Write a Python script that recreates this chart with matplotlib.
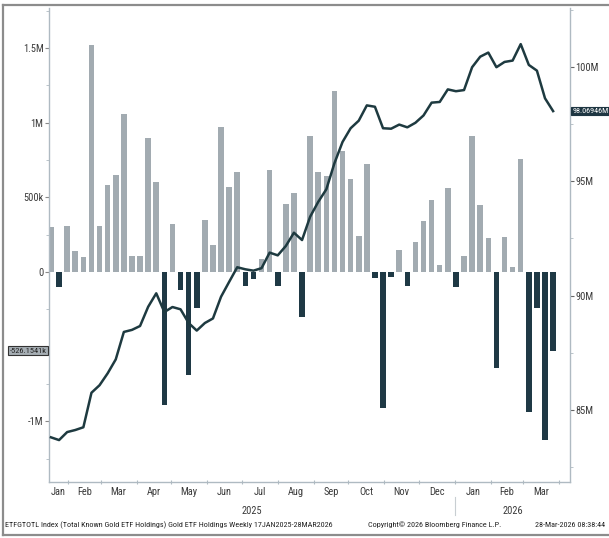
import matplotlib
matplotlib.use("Agg")
import matplotlib.pyplot as plt
from matplotlib import font_manager
from matplotlib.lines import Line2D
import matplotlib.ticker as mticker
import pandas as pd
import numpy as np

# ---------------- data ----------------
start_date = "2025-01-17"          # first weekly observation (Friday)
weekly_flow_k = [300, -100, 310, 140, 100, 1520, 310, 580, 650, 1060,
                 110, 110, 900, 600, -890, 320, -120, -690, -240, 350,
                 180, 970, 570, 670, -95, -50, 85, 680, -95, 455,
                 530, -300, 910, 670, 645, 1210, 810, 625, 240, 720,
                 -40, -910, -36, 150, -95, 200, 340, 480, 50, 560,
                 -100, 107, 910, 446, 228, -640, 237, 36, 754, -940,
                 -240, -1125, -526.1541]
holdings_m = [83.80, 83.68, 84.03, 84.12, 84.24, 85.75, 86.08, 86.60, 87.21, 88.41,
              88.50, 88.67, 89.51, 90.10, 89.28, 89.50, 89.40, 88.80, 88.47, 88.80,
              89.00, 89.95, 90.60, 91.24, 91.15, 91.09, 91.20, 91.88, 91.76, 92.17,
              92.75, 92.43, 93.45, 94.10, 94.65, 95.79, 96.72, 97.32, 97.65, 98.32,
              98.26, 97.32, 97.30, 97.48, 97.36, 97.56, 97.88, 98.44, 98.47, 99.02,
              98.94, 98.99, 99.99, 100.45, 100.63, 99.99, 100.22, 100.28, 101.00, 100.09,
              99.84, 98.63, 98.06946]
left_ticks = [-1.0, -0.5, 0.0, 0.5, 1.0, 1.5]
left_tick_labels = ["-1M", "", "0", "500k", "1M", "1.5M"]
right_ticks = [85, 90, 95, 100]
right_tick_labels = ["85M", "90M", "95M", "100M"]
month_names = ["Jan", "Feb", "Mar", "Apr", "May", "Jun", "Jul", "Aug", "Sep",
               "Oct", "Nov", "Dec"]
last_flow_label = "-526.1541k"
last_hold_label = "98.06946M"
footer_left = ("ETFGTOTL Index (Total Known Gold ETF Holdings) Gold ETF Holdings "
               "Weekly 17JAN2025-28MAR2026")
footer_mid = "Copyright\u00a9 2026 Bloomberg Finance L.P."
footer_right = "28-Mar-2026 08:38:44"

# ---------------- fonts ----------------
names = {f.name for f in font_manager.fontManager.ttflist}
FONT = "DejaVu Sans"
for cand in ["Liberation Sans Narrow", "Roboto Condensed", "Open Sans Condensed"]:
    if cand in names:
        FONT = cand
        break
plt.rcParams["font.family"] = [FONT, "DejaVu Sans"]

GRAY = "#A2ABB1"
DARK = "#1F3945"
LINE = "#1E3A40"
SPINE = "#AFBAC2"
TXT = "#3A3A3A"

dates = pd.date_range(start_date, periods=len(weekly_flow_k), freq="7D")
flows = np.array(weekly_flow_k) / 1000.0
colors = [GRAY if v >= 0 else DARK for v in flows]

W, H = 609, 538
fig = plt.figure(figsize=(W / 100, H / 100), dpi=100)
ax = fig.add_axes([49 / W, (H - 482) / H, 521 / W, 474 / H])

xmin = dates[0] - pd.Timedelta(days=1.7)
xmax = dates[0] + pd.Timedelta(days=448.6)

ax.bar(dates, flows, width=4.8, color=colors, zorder=2)
ax.set_xlim(xmin, xmax)
ax.set_ylim(-1.4066, 1.768)

ax2 = ax.twinx()
ax2.plot(dates, holdings_m, color=LINE, lw=1.8, zorder=3)
ax2.set_ylim(81.846, 102.58)
ax2.set_xlim(xmin, xmax)

for a in (ax, ax2):
    a.spines["top"].set_visible(False)
    for s in ["left", "right", "bottom"]:
        a.spines[s].set_color(SPINE)
        a.spines[s].set_linewidth(1.0)
ax.spines["right"].set_visible(False)
ax2.spines["left"].set_visible(False)
ax2.spines["bottom"].set_visible(False)

# left axis ticks
ax.set_yticks(left_ticks)
ax.set_yticklabels(left_tick_labels)
ax.yaxis.set_minor_locator(mticker.MultipleLocator(0.25))
ax.tick_params(axis="y", which="major", length=3, color="#888888", labelsize=7.5,
               labelcolor=TXT, pad=1)
ax.tick_params(axis="y", which="minor", length=2, color=SPINE)

# right axis ticks
ax2.set_yticks(right_ticks)
ax2.set_yticklabels(right_tick_labels)
ax2.yaxis.set_minor_locator(mticker.MultipleLocator(2.5))
ax2.tick_params(axis="y", which="major", length=3, color="#666666", labelsize=7.5,
                labelcolor=TXT, pad=1)
ax2.tick_params(axis="y", which="minor", length=2, color=SPINE)

# x axis: ticks at month starts, labels mid-month
month_starts = pd.date_range("2025-02-01", "2026-04-01", freq="MS")
ax.set_xticks(month_starts)
ax.set_xticklabels([])
ax.tick_params(axis="x", which="major", length=3, direction="inout", color=SPINE)
ax.xaxis.set_minor_locator(mticker.NullLocator())

bounds = [xmin] + list(month_starts) + [xmax]
trans = ax.get_xaxis_transform()
for i in range(len(bounds) - 2):   # April 2026 not labelled
    a0, a1 = bounds[i], bounds[i + 1]
    mid = a0 + (a1 - a0) / 2
    m = (a0 + pd.Timedelta(days=2)).month if i > 0 else 1
    ax.text(mid, -0.021, month_names[m - 1], transform=trans, ha="center",
            va="center", fontsize=7.5, color=TXT, clip_on=False)

ny = pd.Timestamp("2026-01-01")
ax.text(xmin + (ny - xmin) / 2, -0.061, "2025", transform=trans, ha="center",
        va="center", fontsize=7.5, color=TXT)
ax.text(ny + (xmax - ny) / 2, -0.061, "2026", transform=trans, ha="center",
        va="center", fontsize=7.5, color=TXT)
ax.add_line(Line2D([ny, ny], [-0.032, -0.07], transform=trans, color="#C8CED2",
                   lw=0.8, clip_on=False))

# last-value tags
ax.text(-0.005, weekly_flow_k[-1] / 1000.0, last_flow_label,
        transform=ax.get_yaxis_transform(), ha="right", va="center",
        fontsize=6.0, color="#222222",
        bbox=dict(boxstyle="square,pad=0.18", fc="#A6AEB4", ec="#333333", lw=0.8))
ax2.text(1.005, holdings_m[-1], last_hold_label,
         transform=ax2.get_yaxis_transform(), ha="left", va="center",
         fontsize=5.9, color="white",
         bbox=dict(boxstyle="square,pad=0.15", fc="#1E3642", ec="#1E3642", lw=0.8))

# outer frame
fc = "#8C8C8C"
fig.add_artist(Line2D([3 / W, 1.0], [1 - 5 / H, 1 - 5 / H], transform=fig.transFigure,
                      color=fc, lw=1.6))
fig.add_artist(Line2D([3 / W, 3 / W], [1 - 5 / H, 1 - 535 / H], transform=fig.transFigure,
                      color=fc, lw=1.6))
fig.add_artist(Line2D([3 / W, 1.0], [1 - 535 / H, 1 - 535 / H], transform=fig.transFigure,
                      color=fc, lw=1.6))

# footer
fy = 1 - 525 / H
fig.text(5 / W, fy, footer_left, fontsize=5.9, color="#222222", va="center", ha="left")
fig.text(368 / W, fy, footer_mid, fontsize=5.9, color="#222222", va="center", ha="left")
fig.text(535 / W, fy, footer_right, fontsize=5.9, color="#222222", va="center", ha="left")

fig.savefig("out.png", dpi=100)
